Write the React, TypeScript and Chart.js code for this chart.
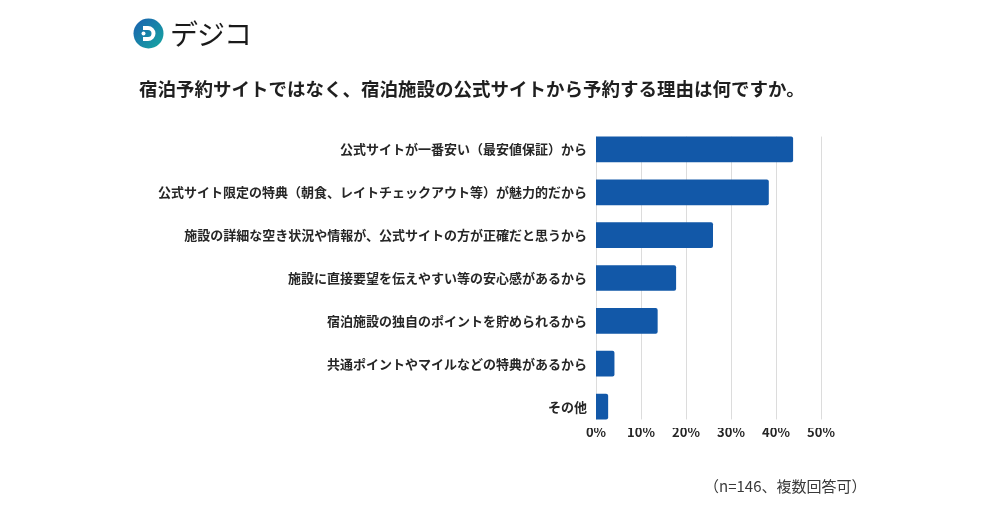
import React, { useEffect, useRef } from "react";
import { Chart, registerables } from "chart.js";

Chart.register(...registerables);

const categories = [
  "公式サイトが一番安い（最安値保証）から",
  "公式サイト限定の特典（朝食、レイトチェックアウト等）が魅力的だから",
  "施設の詳細な空き状況や情報が、公式サイトの方が正確だと思うから",
  "施設に直接要望を伝えやすい等の安心感があるから",
  "宿泊施設の独自のポイントを貯められるから",
  "共通ポイントやマイルなどの特典があるから",
  "その他",
];
const values = [43.8, 38.4, 26.0, 17.8, 13.7, 4.1, 2.7];
const xTicks = [0, 10, 20, 30, 40, 50];

const FONT = "'Noto Sans CJK JP', 'Noto Sans', sans-serif";

const gridPlugin = {
  id: "barGrid",
  beforeDatasetsDraw(chart: any) {
    const meta = chart.getDatasetMeta(0);
    const els = meta.data;
    if (!els.length) return;
    const first = els[0];
    const last = els[els.length - 1];
    const top = first.y - first.height / 2;
    const bottom = last.y + last.height / 2;
    const xs = chart.scales.x;
    const ctx = chart.ctx;
    ctx.save();
    ctx.strokeStyle = "#dcdcdc";
    ctx.lineWidth = 1;
    xTicks.forEach((t) => {
      const px = Math.round(xs.getPixelForValue(t)) + 0.5;
      ctx.beginPath();
      ctx.moveTo(px, top);
      ctx.lineTo(px, bottom);
      ctx.stroke();
    });
    ctx.restore();
  },
};

function Logo() {
  return (
    <div style={{ position: "absolute", left: 133, top: 18, display: "flex", alignItems: "center" }}>
      <svg width="31" height="31" viewBox="0 0 31 31">
        <defs>
          <linearGradient id="lg" x1="0" y1="0" x2="1" y2="1">
            <stop offset="0" stopColor="#1b5fb0" />
            <stop offset="1" stopColor="#15a8a0" />
          </linearGradient>
        </defs>
        <circle cx="15.5" cy="15.5" r="15" fill="url(#lg)" />
        <path d="M10 8 H15 A7.5 7.5 0 0 1 15 23 H10 V19 H15 A3.5 3.5 0 0 0 15 12 H10 Z" fill="#ffffff" />
        <circle cx="10.5" cy="15.5" r="2" fill="#ffffff" />
      </svg>
      <span
        style={{
          fontFamily: FONT,
          fontSize: 28,
          fontWeight: 400,
          color: "#1a1a1a",
          marginLeft: 6,
          lineHeight: "31px",
          letterSpacing: -1,
        }}
      >
        デジコ
      </span>
    </div>
  );
}

export default function App() {
  const ref = useRef<HTMLCanvasElement | null>(null);

  useEffect(() => {
    if (!ref.current) return;
    const chart = new Chart(ref.current, {
      type: "bar",
      data: {
        labels: categories,
        datasets: [
          {
            data: values,
            backgroundColor: "#1258a8",
            borderRadius: 2,
            barPercentage: 0.6,
            categoryPercentage: 1,
          },
        ],
      },
      options: {
        indexAxis: "y",
        animation: false,
        responsive: false,
        maintainAspectRatio: false,
        layout: { padding: { top: 128, right: 179, bottom: 65, left: 0 } },
        plugins: {
          legend: { display: false },
          tooltip: { enabled: false },
          title: { display: false },
        },
        scales: {
          x: {
            min: 0,
            max: 50,
            afterBuildTicks: (scale: any) => {
              scale.ticks = xTicks.map((v) => ({ value: v }));
            },
            afterFit: (scale: any) => {
              scale.height = 22;
            },
            grid: { display: false, drawTicks: false },
            border: { display: false },
            ticks: {
              padding: -4,
              color: "#262626",
              font: { family: FONT, size: 13, weight: "bold" },
              callback: (v: any) => v + "%",
            },
          },
          y: {
            afterFit: (scale: any) => {
              scale.width = 596;
            },
            grid: { display: false, drawTicks: false },
            border: { display: false },
            ticks: {
              padding: 9,
              color: "#262626",
              font: { family: FONT, size: 13, weight: "bold" },
            },
          },
        },
      },
      plugins: [gridPlugin],
    } as any);
    return () => chart.destroy();
  }, []);

  return (
    <div style={{ position: "absolute", left: 0, top: 0, width: 1000, height: 515, background: "#fff", overflow: "hidden" }}>
      <canvas ref={ref} width={1000} height={515} style={{ position: "absolute", left: 0, top: 0, width: 1000, height: 515 }} />
      <Logo />
      <div
        style={{
          position: "absolute",
          left: 139,
          top: 76,
          fontFamily: FONT,
          fontSize: 18.5,
          fontWeight: 700,
          color: "#1f1f1f",
          lineHeight: "24px",
          whiteSpace: "nowrap",
        }}
      >
        宿泊予約サイトではなく、宿泊施設の公式サイトから予約する理由は何ですか。
      </div>
      <div
        style={{
          position: "absolute",
          left: 704,
          top: 475,
          fontFamily: FONT,
          fontSize: 15,
          fontWeight: 400,
          color: "#3a3a3a",
          lineHeight: "22px",
          whiteSpace: "nowrap",
        }}
      >
        （n=146、複数回答可）
      </div>
    </div>
  );
}
